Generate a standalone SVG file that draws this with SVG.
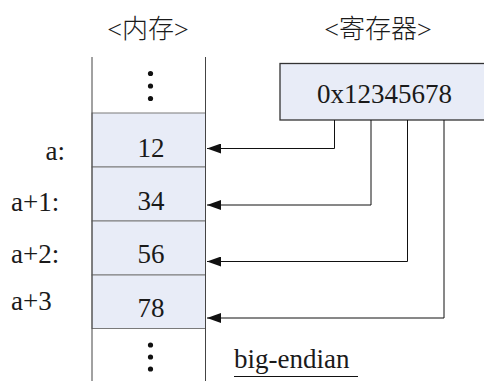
<svg xmlns="http://www.w3.org/2000/svg" width="484" height="381" viewBox="0 0 484 381">
<style>
.cell{fill:#e8ecf7;stroke:#7a7a7a;stroke-width:1}
.col{stroke:#444;stroke-width:1;fill:none}
.dot{fill:#111}
.c1{stroke:#111;stroke-width:1;fill:none}
</style>
<defs>
<marker id="ah" viewBox="0 0 14 10" refX="14" refY="5" markerWidth="14" markerHeight="10" markerUnits="userSpaceOnUse" orient="auto">
<path d="M0,0 L14,5 L0,10 z" fill="#111"/>
</marker>
</defs>
<rect width="484" height="381" fill="#fff"/>
<g id="headers" fill="#1a1a1a">
<text x="148" y="38" text-anchor="middle" style="font-family:'Liberation Serif',serif;font-size:26px">&lt;<tspan style="font-family:'Noto Sans CJK SC',sans-serif;font-weight:300">内存</tspan>&gt;</text>
<text x="378" y="38" text-anchor="middle" style="font-family:'Liberation Serif',serif;font-size:26px">&lt;<tspan style="font-family:'Noto Sans CJK SC',sans-serif;font-weight:300">寄存器</tspan>&gt;</text>
</g>
<g id="memory" fill="#1a1a1a">
<g id="cell-top">
<circle class="dot" cx="150.5" cy="73.5" r="2.6"/>
<circle class="dot" cx="150.5" cy="86" r="2.6"/>
<circle class="dot" cx="150.5" cy="98.5" r="2.6"/>
</g>
<g id="cell-a">
<rect class="cell" x="92" y="113" width="113.5" height="54"/>
<text x="151" y="157" text-anchor="middle" style="font-family:'Liberation Serif',serif;font-size:27px">12</text>
</g>
<g id="cell-a1">
<rect class="cell" x="92" y="167" width="113.5" height="54"/>
<text x="151" y="210" text-anchor="middle" style="font-family:'Liberation Serif',serif;font-size:27px">34</text>
</g>
<g id="cell-a2">
<rect class="cell" x="92" y="221" width="113.5" height="54"/>
<text x="151" y="263" text-anchor="middle" style="font-family:'Liberation Serif',serif;font-size:27px">56</text>
</g>
<g id="cell-a3">
<rect class="cell" x="92" y="275" width="113.5" height="53.5"/>
<text x="151" y="317" text-anchor="middle" style="font-family:'Liberation Serif',serif;font-size:27px">78</text>
</g>
<g id="cell-bottom">
<circle class="dot" cx="150.5" cy="345" r="2.6"/>
<circle class="dot" cx="150.5" cy="357" r="2.6"/>
<circle class="dot" cx="150.5" cy="369" r="2.6"/>
</g>
<path class="col" d="M92,57 V381 M205.5,57 V381"/>
</g>
<g id="labels" fill="#1a1a1a">
<text x="65" y="160" text-anchor="end" style="font-family:'Liberation Serif',serif;font-size:27px">a:</text>
<text x="11" y="211" style="font-family:'Liberation Serif',serif;font-size:27px">a+1:</text>
<text x="11" y="263" style="font-family:'Liberation Serif',serif;font-size:27px">a+2:</text>
<text x="11" y="310" style="font-family:'Liberation Serif',serif;font-size:27px">a+3</text>
</g>
<g id="register" fill="#1a1a1a">
<rect x="280" y="63.5" width="220" height="56.5" fill="#e8ecf7" stroke="#333" stroke-width="1.3"/>
<text x="384.5" y="103" text-anchor="middle" style="font-family:'Liberation Serif',serif;font-size:27px">0x12345678</text>
</g>
<g id="connectors">
<path class="c1" d="M334.5,120 V148.5 H207" marker-end="url(#ah)"/>
<path class="c1" d="M371,120 V205 H207" marker-end="url(#ah)"/>
<path class="c1" d="M407.5,120 V261.5 H207" marker-end="url(#ah)"/>
<path class="c1" d="M444,120 V318 H207" marker-end="url(#ah)"/>
</g>
<g id="caption" fill="#1a1a1a">
<text x="234" y="368" style="font-family:'Liberation Serif',serif;font-size:27px">big-endian</text>
<line x1="234" y1="376.5" x2="358" y2="376.5" stroke="#111" stroke-width="1.2"/>
</g>
</svg>
